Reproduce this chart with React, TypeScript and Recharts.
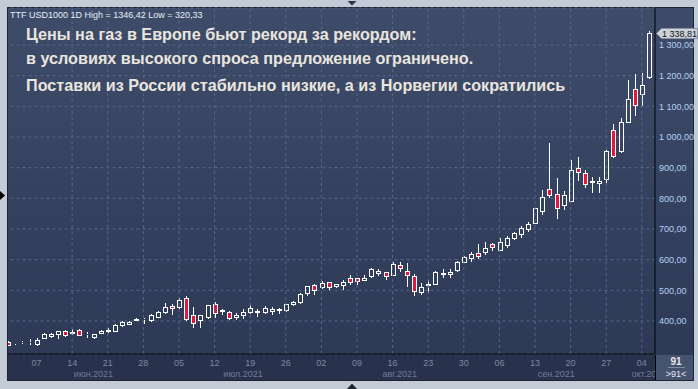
import React from 'react';
import { ComposedChart, Bar, XAxis, YAxis, CartesianGrid, ReferenceLine } from 'recharts';

// TTF USD/1000 m3, daily candles, 1 Jun – 5 Oct 2021
const opens = [
  333, 321, 330, 330, 326, 345, 352, 356, 368, 360,
  371, 356, 348, 361, 369, 368, 387, 390, 404, 405,
  403, 413, 430, 448, 446, 475, 420, 403, 413, 455,
  434, 430, 413, 420, 430, 428, 429, 433, 437, 436,
  455, 463, 490, 516, 510, 527, 515, 517, 540, 540,
  535, 547, 558, 560, 550, 582, 563, 547, 496, 518,
  522, 552, 553, 566, 594, 604, 621, 625, 650, 632,
  649, 670, 685, 700, 720, 758, 830, 813, 779, 791,
  899, 882, 853, 850, 862, 1022, 956, 1050, 1156, 1140,
  1195,
];
const highs = [
  334, 324, 335, 340, 345, 360, 362, 369, 370, 374,
  373, 364, 359, 371, 377, 390, 400, 400, 409, 410,
  423, 433, 459, 455, 474, 480, 446, 421, 453, 462,
  440, 433, 427, 440, 452, 440, 449, 446, 442, 457,
  466, 490, 515, 522, 531, 528, 522, 533, 550, 541,
  550, 574, 570, 561, 594, 592, 588, 553, 525, 535,
  562, 569, 568, 595, 611, 626, 652, 656, 655, 670,
  676, 690, 710, 722, 770, 826, 981, 866, 824, 925,
  936, 892, 870, 870, 959, 1043, 1062, 1186, 1205, 1210,
  1346.42,
];
const lows = [
  320.33, 320.5, 327, 325, 323, 343, 348, 345, 352, 358,
  353, 348, 345, 360, 364, 366, 384, 389, 402, 394,
  401, 412, 427, 423, 444, 404, 381, 381, 411, 413,
  423, 406, 407, 410, 426, 417, 426, 424, 426, 434,
  452, 460, 485, 487, 506, 505, 510, 505, 520, 520,
  534, 544, 550, 537, 549, 564, 514, 485, 489, 495,
  520, 545, 542, 564, 593, 597, 605, 620, 632, 630,
  640, 667, 675, 695, 718, 750, 805, 735, 764, 790,
  860, 836, 820, 820, 854, 935, 952, 1049, 1072, 1105,
  1192,
];
const closes = [
  322, 323, 332, 333, 339, 358, 357, 368, 355, 364,
  355, 359, 358, 368, 372, 387, 397, 397, 407, 408,
  420, 430, 446, 442, 469, 407, 394, 420, 452, 426,
  437, 410, 421, 430, 443, 432, 442, 439, 440, 456,
  463, 488, 514, 502, 524, 512, 521, 528, 527, 529,
  540, 570, 562, 547, 587, 572, 550, 498, 512, 522,
  560, 556, 561, 593, 610, 620, 612, 639, 640, 657,
  671, 687, 702, 716, 769, 805, 810, 768, 810, 892,
  885, 846, 858, 857, 954, 939, 1049, 1124, 1106, 1171,
  1338.81,
];

const weekTicks = [
  '2021-06-07', '2021-06-14', '2021-06-21', '2021-06-28',
  '2021-07-05', '2021-07-12', '2021-07-19', '2021-07-26',
  '2021-08-02', '2021-08-09', '2021-08-16', '2021-08-23', '2021-08-30',
  '2021-09-06', '2021-09-13', '2021-09-20', '2021-09-27', '2021-10-04',
];
const monthTicks = ['2021-06-17', '2021-07-16', '2021-08-17', '2021-09-16', '2021-10-05'];
const monthNames = ['июн.2021', 'июл.2021', 'авг.2021', 'сен.2021', 'окт.2021'];
const priceTicks = [400, 500, 600, 700, 800, 900, 1000, 1100, 1200, 1300];

const titleLines = [
  'Цены на газ в Европе бьют рекорд за рекордом:',
  'в условиях высокого спроса предложение ограничено.',
  'Поставки из России стабильно низкие, а из Норвегии сократились',
];

// weekdays starting 1 Jun 2021
function tradingDays(start: string, n: number) {
  const out: string[] = [];
  const d = new Date(start + 'T00:00:00Z');
  while (out.length < n) {
    const wd = d.getUTCDay();
    if (wd !== 0 && wd !== 6) out.push(d.toISOString().slice(0, 10));
    d.setUTCDate(d.getUTCDate() + 1);
  }
  return out;
}
const dates = tradingDays('2021-06-01', closes.length);

const data = dates.map((date, i) => ({
  date, open: opens[i], high: highs[i], low: lows[i], close: closes[i],
}));

const FONT = '"Liberation Sans", Arial, sans-serif';
const fmtPrice = (v: number) => {
  const [ip, fp] = v.toFixed(2).split('.');
  return ip.replace(/\B(?=(\d{3})+(?!\d))/g, ' ') + ',' + fp;
};

function Candle(props: any) {
  const { x, y, width, height, payload } = props;
  const { open, close, high, low } = payload;
  const top = Math.min(y, y + height);
  const bot = Math.max(y, y + height);
  const span = high - low || 1;
  const py = (v: number) => top + ((high - v) / span) * (bot - top);
  const cx = Math.round(x + width / 2);
  const up = close >= open;
  const bTop = Math.round(py(Math.max(open, close)));
  const bBot = Math.round(py(Math.min(open, close)));
  const hTop = Math.round(py(high));
  const lBot = Math.round(py(low));
  return (
    <g>
      {hTop < bTop && <line x1={cx + 0.5} x2={cx + 0.5} y1={hTop} y2={bTop} stroke="#fff" />}
      {lBot > bBot && <line x1={cx + 0.5} x2={cx + 0.5} y1={bBot + 1} y2={lBot + 1} stroke="#fff" />}
      <rect x={cx - 1.5} y={bTop + 0.5} width={4} height={bBot - bTop}
        fill={up ? 'none' : '#e3173e'} stroke="#fff" strokeWidth={1} />
    </g>
  );
}

function TimeTick(props: any) {
  const { x, y, payload } = props;
  const v: string = payload.value;
  const wi = weekTicks.indexOf(v);
  const mi = monthTicks.indexOf(v);
  return (
    <g fontFamily={FONT} fontSize={9} fill="#7b88a3">
      {wi >= 0 && <text x={x} y={y + 12} textAnchor="middle">{v.slice(8)}</text>}
      {mi >= 0 && <text x={x} y={y + 23} textAnchor="middle" fill="#6f7c98">{monthNames[mi]}</text>}
    </g>
  );
}

function PriceTick(props: any) {
  const { x, y, payload } = props;
  return (
    <text x={x + 4} y={y + 3.3} fontFamily={FONT} fontSize={9} fill="#b5d1f3">{fmtPrice(payload.value)}</text>
  );
}

function PriceTag(props: any) {
  const vb = props.viewBox || {};
  const x0 = vb.x + vb.width + 1.5;
  const y0 = Math.round(vb.y) + 0.5;
  return (
    <g>
      <polygon points={`${x0},${y0} ${x0 + 5},${y0 - 5} ${x0 + 41},${y0 - 5} ${x0 + 41},${y0 + 5} ${x0 + 5},${y0 + 5}`}
        fill="#cdd2da" stroke="#8b93a3" strokeWidth={1} />
      <text x={x0 + 5.5} y={y0 + 3.3} fontFamily={FONT} fontSize={9} fill="#111">{fmtPrice(closes[closes.length - 1])}</text>
    </g>
  );
}

export default function App() {
  return (
    <div style={{ position: 'absolute', left: 0, top: 0, width: 698, height: 389, background: '#c3cbd7', overflow: 'hidden' }}>
      <div style={{ position: 'absolute', left: 7, top: 7, width: 687, height: 374, background: '#1d2332' }} />
      <div style={{ position: 'absolute', left: 8, top: 8, width: 685, height: 372, background: 'linear-gradient(#3e4c6a, #2c3854)' }} />
      <div style={{ position: 'absolute', left: 8, top: 355, width: 647, height: 25, background: '#28324c' }} />
      <div style={{ position: 'absolute', left: 0, top: 0 }}>
        <ComposedChart width={698} height={389} data={data} margin={{ top: 8, right: 5, bottom: 9, left: 4.5 }}>
          <CartesianGrid vertical={false} stroke="#56658a" strokeDasharray="3 3" />
          {weekTicks.slice(1).map((d) => (
            <ReferenceLine key={d} x={d} stroke="#56658a" strokeDasharray="3 3" />
          ))}
          <XAxis dataKey="date" ticks={[...weekTicks, ...monthTicks]} interval={0} height={26}
            tickSize={0} tickMargin={0} tickLine={false} padding={{ left: 0, right: 2.5 }}
            axisLine={{ stroke: '#000' }} tick={TimeTick} />
          <YAxis orientation="right" width={38} domain={[292.4, 1420.7]} allowDataOverflow
            ticks={priceTicks} tickSize={0} tickMargin={0} tickLine={false}
            axisLine={{ stroke: '#000' }} tick={PriceTick} />
          <Bar dataKey={(d: any) => [d.low, d.high]} shape={(p: any) => <Candle {...p} />} isAnimationActive={false} />
          <ReferenceLine y={closes[closes.length - 1]} stroke="none" label={<PriceTag />} />
        </ComposedChart>
      </div>
      {/* frame edge, clips first candle */}
      <div style={{ position: 'absolute', left: 0, top: 0, width: 7, height: 389, background: '#c3cbd7' }} />
      <div style={{ position: 'absolute', left: 7, top: 7, width: 1, height: 374, background: '#1d2332' }} />
      {/* bar count box */}
      <div style={{ position: 'absolute', left: 655, top: 355, width: 38, height: 25, background: '#46536e', borderLeft: '1px solid #000', boxSizing: 'border-box' }} />
      <svg width={698} height={389} style={{ position: 'absolute', left: 0, top: 0, pointerEvents: 'none' }}>
        <text x={676} y={365} textAnchor="middle" fontFamily={FONT} fontSize={10} fontWeight="bold" fill="#e4e9f2">91</text>
        <line x1={668} x2={685} y1={367.5} y2={367.5} stroke="#7d8aa4" />
        <text x={676} y={377} textAnchor="middle" fontFamily={FONT} fontSize={9} fill="#e4e9f2">&gt;91&lt;</text>
        <text x={10} y={18} fontFamily={FONT} fontSize={9} fill="#e8eef6">TTF USD1000 1D High = 1346,42 Low = 320,33</text>
        <text x={26} y={39.7} fontFamily={FONT} fontSize={16.2} fontWeight="bold" fill="#e9e5de">{titleLines[0]}</text>
        <text x={26} y={63.5} fontFamily={FONT} fontSize={16.2} fontWeight="bold" fill="#e9e5de">{titleLines[1]}</text>
        <text x={26} y={91.3} fontFamily={FONT} fontSize={16.2} fontWeight="bold" fill="#e9e5de">{titleLines[2]}</text>
        <polygon points="0,191 5,195.5 0,200" fill="#000" />
        <polygon points="347,389 352,383.5 357,389" fill="#1d2332" />
        <polygon points="347.5,1 356.5,1 352,5.5" fill="#2b3548" />
      </svg>
    </div>
  );
}
